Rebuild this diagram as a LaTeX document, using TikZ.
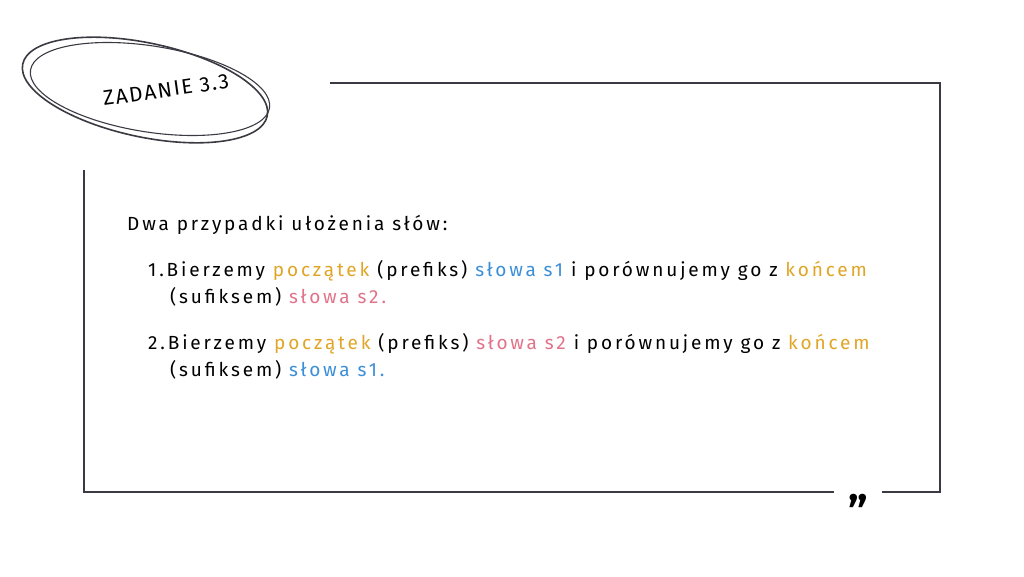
\documentclass[tikz,border=0pt]{standalone}
\usepackage{fontspec}
\setmainfont{Fira Sans}
\definecolor{frame}{HTML}{3A3A42}
\definecolor{yel}{HTML}{E0A526}
\definecolor{blu}{HTML}{3B8ED8}
\definecolor{pnk}{HTML}{E27289}
\tikzset{txt/.style={anchor=west,inner sep=0pt,font=\fontsize{19}{22}\selectfont\addfontfeature{LetterSpace=15}},
 fr/.style={draw=frame,line width=2.2pt}}
\begin{document}
\begin{tikzpicture}[x=1pt,y=-1pt]
\useasboundingbox (0,0) rectangle (1024,576);
\draw[fr] (330,83) -- (940,83) -- (940,492) -- (882,492);
\draw[fr] (834,492) -- (84,492) -- (84,170);
\node[font=\bfseries\fontsize{44}{44}\selectfont,text=black] (q) at (858,501) {,,};
\draw[line width=1.6pt,frame,rotate around={-12:(145,90)}] (145,90) ellipse (125 and 47);
\draw[line width=1.1pt,frame,rotate around={-9:(150,89)}] (150,89) ellipse (121 and 43);
\node[font=\fontsize{21}{21}\selectfont\addfontfeature{LetterSpace=8},rotate=8,text=black] (t) at (166,90) {ZADANIE 3.3};
\node[txt] (a) at (127,225) {Dwa przypadki ułożenia słów:};
\node[txt] (b1) at (148,271) {1.Bierzemy \textcolor{yel}{początek} (prefiks) \textcolor{blu}{słowa s1} i porównujemy go z \textcolor{yel}{końcem}};
\node[txt] (b2) at (170,297) {(sufiksem) \textcolor{pnk}{słowa s2.}};
\node[txt] (c1) at (148,344) {2.Bierzemy \textcolor{yel}{początek} (prefiks) \textcolor{pnk}{słowa s2} i porównujemy go z \textcolor{yel}{końcem}};
\node[txt] (c2) at (170,370) {(sufiksem) \textcolor{blu}{słowa s1.}};
\end{tikzpicture}
\end{document}
